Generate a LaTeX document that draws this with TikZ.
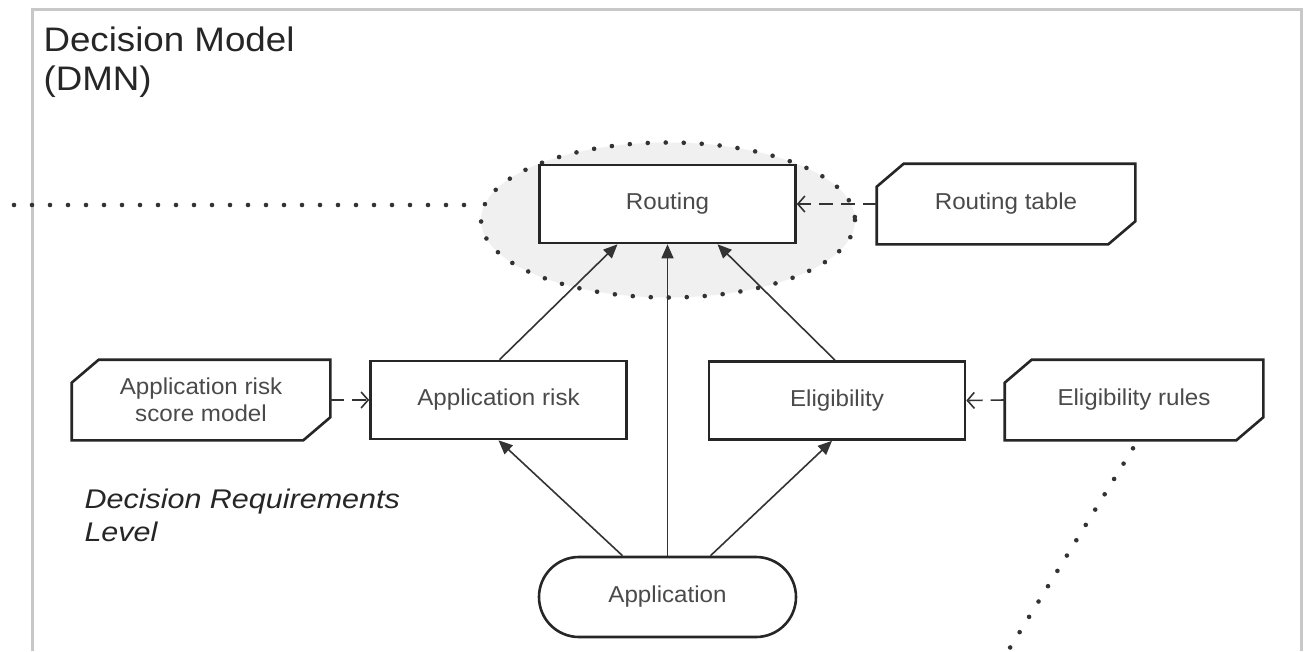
\documentclass[tikz,border=0pt]{standalone}
\usepackage{fontspec}
\setmainfont{Liberation Sans}
\newfontfamily\nodefont[FakeStretch=1.05]{Liberation Sans}
\newfontfamily\titlefont[FakeStretch=1.08]{Liberation Sans}
\newfontfamily\levelfont[FakeStretch=1.13]{Liberation Sans}
\usetikzlibrary{arrows.meta,shapes.geometric}
\definecolor{frame}{HTML}{C8C8C8}
\definecolor{ink}{HTML}{262626}
\definecolor{txt}{HTML}{4A4A4A}
\definecolor{wire}{HTML}{333333}
\definecolor{groupfill}{HTML}{F0F0F0}
\tikzset{
  box/.style={draw=ink, line width=2.6pt, fill=white, rectangle,
    minimum width=256pt, minimum height=78pt, inner sep=0pt,
    font=\nodefont\fontsize{23}{27}\selectfont, text=txt, align=center},
  knowbox/.style={box, draw=none},
  outline/.style={draw=ink, line width=2.6pt, line join=miter},
  inputdata/.style={box, rounded corners=40pt, minimum height=80pt, minimum width=257pt},
  req/.style={draw=wire, line width=1.6pt, -{Triangle[length=14pt,width=12pt]}},
  know/.style={draw=wire, line width=1.6pt, dash pattern=on 14pt off 8pt,
    -{Straight Barb[length=7pt,width=16pt,line width=1.6pt]}},
  dotline/.style={draw=wire, line width=4.6pt, line cap=round,
    dash pattern=on 0pt off 18pt},
}
% outline of a knowledge source: rectangle with two chamfered corners
\newcommand\knowledgeshape[1]{%
  \draw[outline] ([yshift=-23pt]#1.north west) -- ([xshift=27pt]#1.north west)
    -- (#1.north east) -- ([yshift=23pt]#1.south east)
    -- ([xshift=-27pt]#1.south east) -- (#1.south west) -- cycle;}
\begin{document}
\begin{tikzpicture}[x=1pt,y=-1pt]
\useasboundingbox (0,0) rectangle (1306,651);
\fill[white] (0,0) rectangle (1306,651);

% outer frame
\draw[frame, line width=3pt] (32,651) -- (32,9) -- (1301,9) -- (1301,651);

% title
\node[anchor=north west, align=left, text=ink,
  font=\titlefont\fontsize{34}{39}\selectfont] (title) at (40,23) {Decision Model\\(DMN)};

% level caption
\node[anchor=north west, align=left, text=ink,
  font=\levelfont\fontsize{27}{33}\selectfont\itshape] (level) at (81,485)
  {Decision Requirements\\Level};

% highlighted group round the top decision
\node[ellipse, fill=groupfill, minimum width=374pt, minimum height=155pt] (grp) at (668,220) {};
\draw[dotline] (grp.center) ellipse [x radius=187, y radius=77.5];
\coordinate (lineend) at (14,205);
\draw[dotline] (lineend) -- (478,205);

% decisions
\node[box] (rout) at (667.5,204) {Routing};
\node[box] (ar) at (498.5,400) {Application risk};
\node[box] (el) at (837,400.5) {Eligibility};

% knowledge sources
\node[knowbox] (rt) at (1006,204) {Routing table};
\knowledgeshape{rt}
\node[knowbox] (arsm) at (201,400) {Application risk\\score model};
\knowledgeshape{arsm}
\node[knowbox] (elr) at (1134,400) {Eligibility rules};
\knowledgeshape{elr}

% input data
\node[inputdata] (app) at (667.5,597) {Application};

% information requirements
\draw[req] ([xshift=-45pt]app.north) -- (ar.south);
\draw[req] (app.north) -- (rout.south);
\draw[req] ([xshift=43pt]app.north) -- ([xshift=-5pt]el.south);
\draw[req] ([xshift=1pt]ar.north) -- ([xshift=-50pt]rout.south);
\draw[req] ([xshift=-2pt]el.north) -- ([xshift=50pt]rout.south);

% knowledge requirements
\draw[know] (rt.west) -- (rout.east);
\draw[know] (arsm.east) -- (ar.west);
\draw[know] (elr.west) -- (el.west -| el.east);

% association leaving the rules
\coordinate (assocend) at (1008,651);
\draw[dotline] ([xshift=-1pt,yshift=-8pt]elr.south) -- (assocend);
\end{tikzpicture}
\end{document}
